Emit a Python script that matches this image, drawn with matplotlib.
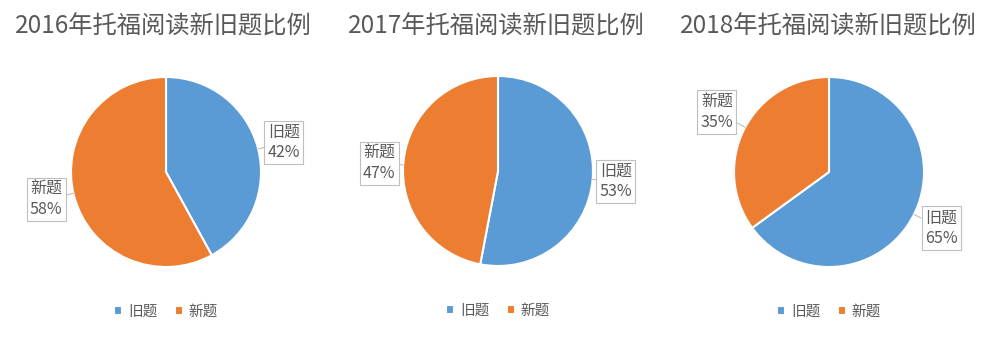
import numpy as np
import matplotlib
matplotlib.use("Agg")
import matplotlib.pyplot as plt

plt.rcParams["font.family"] = ["Noto Sans CJK SC", "DejaVu Sans"]

# data
years = ["2016", "2017", "2018"]
categories = ["旧题", "新题"]
old_pct = [42, 53, 65]
new_pct = [58, 47, 35]

COLORS = ["#5B9BD5", "#ED7D31"]
TEXT = "#595959"

W, H = 1000, 342
centers_px = [(166, 172), (498, 171), (829, 172)]
radius_px = 95
title_x_px = [163, 496, 828]
# label box positions (in pie radius units), one per category
label_pos = [
    [(1.24, 0.31), (-1.26, -0.29)],
    [(1.24, -0.11), (-1.25, 0.08)],
    [(1.18, -0.59), (-1.18, 0.63)],
]

fig = plt.figure(figsize=(W / 100, H / 100), dpi=100)

for i, year in enumerate(years):
    cx, cy = centers_px[i]
    ax = fig.add_axes([(cx - radius_px) / W, (H - cy - radius_px) / H,
                       2 * radius_px / W, 2 * radius_px / H])
    vals = [old_pct[i], new_pct[i]]
    ax.pie(vals, colors=COLORS, startangle=90, counterclock=False, radius=1,
           wedgeprops=dict(edgecolor="white", linewidth=1.5))
    ax.set_xlim(-1, 1)
    ax.set_ylim(-1, 1)
    ax.set_aspect("equal")
    ax.axis("off")

    for j, cat in enumerate(categories):
        lx, ly = label_pos[i][j]
        d = np.hypot(lx, ly)
        px, py = lx / d, ly / d
        ax.annotate(f"{cat}\n{vals[j]}%", xy=(px, py), xytext=(lx, ly),
                    ha="center", va="center", fontsize=11.5, color=TEXT,
                    linespacing=1.25, annotation_clip=False,
                    bbox=dict(boxstyle="square,pad=0.2", fc="white",
                              ec="#BFBFBF", lw=0.8),
                    arrowprops=dict(arrowstyle="-", color="#BFBFBF", lw=0.8,
                                    shrinkA=0, shrinkB=0))

    fig.text(title_x_px[i] / W, 1 - 27 / H, f"{year}年托福阅读新旧题比例",
             ha="center", va="center", fontsize=17.5, color=TEXT)

    leg = ax.legend(categories, loc="center", bbox_to_anchor=(0.5, -0.235),
                    ncol=2, frameon=False, fontsize=10.5, handlelength=0.55,
                    handleheight=0.55, handletextpad=0.4, columnspacing=1.2)
    for t in leg.get_texts():
        t.set_color(TEXT)

fig.savefig("out.png", dpi=100, facecolor="white")
